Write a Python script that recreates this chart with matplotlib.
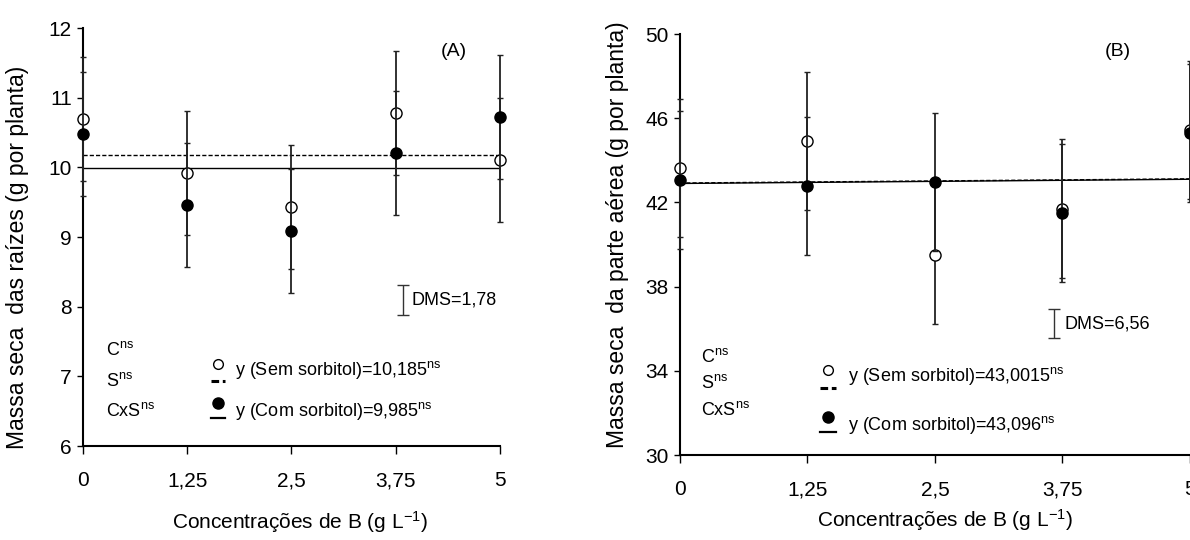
import numpy as np
import matplotlib

matplotlib.use("Agg")
import matplotlib.pyplot as plt

plt.rcParams["font.family"] = ["Liberation Sans", "DejaVu Sans"]
plt.rcParams["mathtext.fontset"] = "custom"
plt.rcParams["mathtext.rm"] = "Liberation Sans"
plt.rcParams["mathtext.default"] = "regular"

# ---- data ----
conc = [0, 1.25, 2.5, 3.75, 5]
tick_labels = ["0", "1,25", "2,5", "3,75", "5"]

# (A) root dry mass
raiz_sem = [10.70, 9.92, 9.43, 10.78, 10.10]
raiz_com = [10.48, 9.46, 9.08, 10.20, 10.73]
raiz_err = 0.89
raiz_fit_sem = [10.185, 10.185]
raiz_fit_com = [9.985, 9.985]

# (B) shoot dry mass
aerea_sem = [43.62, 44.91, 39.50, 41.71, 45.44]
aerea_com = [43.06, 42.78, 42.98, 41.48, 45.28]
aerea_err = 3.28
aerea_fit_sem = [42.92, 43.12]
aerea_fit_com = [42.90, 43.10]


def panel(ax, sem, com, err, fit_sem, fit_com, ylim, yticks, ylabel, tag, tag_xy,
          dms_txt, dms_x, dms_y, dms_half, stats_x, stats_y, leg_x, leg_y, eq_sem, eq_com,
          xlabel_y, ylabel_xy):
    ax.plot([conc[0], conc[-1]], fit_sem, color="black", lw=1.0, ls=(0, (3, 1.5)), zorder=2)
    ax.plot([conc[0], conc[-1]], fit_com, color="black", lw=1.0, zorder=2)
    ax.errorbar(conc, sem, yerr=err, fmt="o", ms=8, mfc="white", mec="black", mew=1.0,
                ecolor="#222222", elinewidth=1.3, capsize=2.5, capthick=1.2, zorder=3, clip_on=False)
    ax.errorbar(conc, com, yerr=err, fmt="o", ms=8, mfc="black", mec="black", mew=1.0,
                ecolor="#222222", elinewidth=1.3, capsize=2.5, capthick=1.2, zorder=4, clip_on=False)

    # DMS bar
    ax.errorbar([dms_x], [dms_y], yerr=dms_half, fmt="none", ecolor="#333333",
                elinewidth=1.0, capsize=4, capthick=1.0)
    ax.text(dms_x + 0.1, dms_y, dms_txt, fontsize=13, va="center", ha="left")

    ax.text(tag_xy[0], tag_xy[1], tag, fontsize=14, ha="center", va="center")

    # statistics
    for lab, yy in zip(["C$^{ns}$", "S$^{ns}$", "CxS$^{ns}$"], stats_y):
        ax.text(stats_x, yy, lab, fontsize=13, ha="left", va="center")

    # legend drawn by hand
    span = ylim[1] - ylim[0]
    ax.plot([leg_x], [leg_y[0]], "o", ms=7, mfc="white", mec="black", mew=1.0)
    ax.plot([leg_x - 0.08, leg_x + 0.08], [leg_y[0] - 0.042 * span] * 2,
            color="black", lw=2.2, ls=(0, (2.5, 1.2)))
    ax.plot([leg_x], [leg_y[1]], "o", ms=8, mfc="black", mec="black", mew=1.0)
    ax.plot([leg_x - 0.08, leg_x + 0.08], [leg_y[1] - 0.036 * span] * 2,
            color="black", lw=1.6)
    ax.text(leg_x + 0.2, leg_y[0] - 0.015 * span, eq_sem, fontsize=13, ha="left", va="center")
    ax.text(leg_x + 0.2, leg_y[1] - 0.02 * span, eq_com, fontsize=13, ha="left", va="center")

    ax.set_xlim(0, 5)
    ax.set_ylim(*ylim)
    ax.set_xticks(conc)
    ax.set_xticklabels(tick_labels)
    ax.set_yticks(yticks)
    ax.tick_params(axis="both", labelsize=15, direction="out", width=1.0)
    ax.tick_params(axis="x", length=6, pad=12)
    ax.tick_params(axis="y", length=4, pad=4)
    for s in ["top", "right"]:
        ax.spines[s].set_visible(False)
    for s in ["left", "bottom"]:
        ax.spines[s].set_linewidth(1.5)
    ax.set_ylabel(ylabel, fontsize=16.5, va="center")
    ax.yaxis.set_label_coords(*ylabel_xy)
    ax.set_xlabel("Concentrações de B (g L$^{-1}$)", fontsize=15, va="center")
    ax.xaxis.set_label_coords(0.52, xlabel_y)


fig = plt.figure(figsize=(11.9, 5.4), dpi=100)
axA = fig.add_axes([0.0697, 0.174, 0.3505, 0.774])
axB = fig.add_axes([0.5714, 0.1574, 0.4286, 0.7796])

panel(axA, raiz_sem, raiz_com, raiz_err, raiz_fit_sem, raiz_fit_com,
      (6, 12), [6, 7, 8, 9, 10, 11, 12], "Massa seca  das raízes (g por planta)",
      "(A)", (4.44, 11.66), "DMS=1,78", 3.84, 8.095, 0.215,
      0.28, [7.38, 6.93, 6.50], 1.62, [7.18, 6.62],
      "y (Sem sorbitol)=10,185$^{ns}$", "y (Com sorbitol)=9,985$^{ns}$",
      -0.182, (-0.156, 0.452))

panel(axB, aerea_sem, aerea_com, aerea_err, aerea_fit_sem, aerea_fit_com,
      (30, 50), [30, 34, 38, 42, 46, 50], "Massa seca  da parte aérea (g por planta)",
      "(B)", (4.29, 49.16), "DMS=6,56", 3.67, 36.23, 0.69,
      0.21, [34.64, 33.40, 32.13], 1.45, [34.03, 31.82],
      "y (Sem sorbitol)=43,0015$^{ns}$", "y (Com sorbitol)=43,096$^{ns}$",
      -0.155, (-0.122, 0.523))

fig.savefig("out.png", dpi=100)
plt.close(fig)
